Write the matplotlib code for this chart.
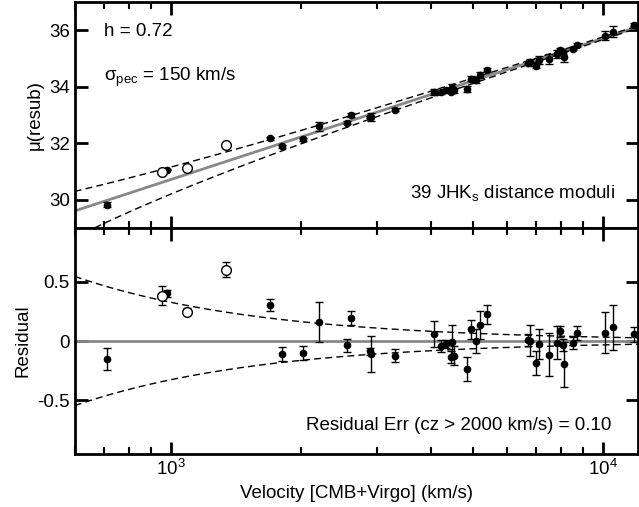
import numpy as np
import matplotlib.pyplot as plt
from matplotlib.ticker import LogLocator, NullFormatter, FixedLocator

plt.rcParams['font.family'] = ['Liberation Sans', 'DejaVu Sans']
plt.rcParams['font.size'] = 13.5
plt.rcParams['mathtext.fontset'] = 'custom'
plt.rcParams['mathtext.rm'] = 'Liberation Sans'
plt.rcParams['mathtext.it'] = 'Liberation Sans'

h = 0.72
sigma_pec = 150.0

# velocity (km/s), distance modulus, residual, error, open flag
velocity = [711, 957, 979, 1093, 1341, 1698, 1807, 2023, 2208, 2565,
            2610, 2890, 2914, 3300, 4065, 4217, 4346, 4487, 4446, 4530,
            4853, 4966, 5096, 5187, 5402, 6776, 6700, 7000, 7124, 7519,
            7827, 7985, 8095, 8136, 8533, 8712, 10116, 10577, 11838]
mu = [29.82, 31.00, 31.07, 31.13, 31.95, 32.17, 31.89, 32.14, 32.60, 32.72,
      33.00, 32.93, 32.93, 33.18, 33.82, 33.80, 33.88, 33.97, 33.82, 33.87,
      33.91, 34.29, 34.25, 34.42, 34.60, 34.87, 34.85, 34.75, 34.95, 34.98,
      35.17, 35.31, 35.22, 35.07, 35.35, 35.48, 35.81, 35.95, 36.20]
resid = [-0.15, 0.38, 0.40, 0.245, 0.60, 0.30, -0.11, -0.10, 0.16, -0.035,
         0.195, -0.085, -0.11, -0.125, 0.06, -0.04, -0.025, -0.005, -0.137, -0.125,
         -0.235, 0.10, 0.003, 0.135, 0.225, 0.003, 0.01, -0.185, -0.025, -0.115,
         -0.015, 0.08, -0.03, -0.195, -0.02, 0.07, 0.07, 0.115, 0.055]
err = [0.09, 0.08, 0.03, 0.03, 0.06, 0.05, 0.06, 0.06, 0.17, 0.055,
       0.06, 0.03, 0.15, 0.055, 0.11, 0.05, 0.03, 0.14, 0.05, 0.08,
       0.10, 0.08, 0.10, 0.12, 0.08, 0.13, 0.05, 0.10, 0.13, 0.18,
       0.14, 0.05, 0.05, 0.19, 0.05, 0.06, 0.17, 0.19, 0.06]
is_open = [False, True, False, True, True] + [False] * 34

v = np.array(velocity, dtype=float)
mu = np.array(mu)
resid = np.array(resid)
err = np.array(err)
is_open = np.array(is_open)

H0 = 100 * h
vv = np.logspace(np.log10(600), np.log10(12500), 300)
mu_model = 5 * np.log10(vv / H0) + 25
k = 5 / np.log(10)

fig = plt.figure(figsize=(6.39, 5.07), dpi=100)
ax1 = fig.add_axes([0.117, 0.5503, 0.881, 0.4457])
ax2 = fig.add_axes([0.117, 0.1045, 0.881, 0.4458], sharex=ax1)

# --- top panel ---
ax1.plot(vv, mu_model, color='#888888', lw=2, zorder=2)
ax1.plot(vv, 5 * np.log10((vv + 1.5 * sigma_pec) / H0) + 25, 'k--', lw=1, dashes=(5, 3))
ax1.plot(vv, 5 * np.log10((vv - 1.41 * sigma_pec) / H0) + 25, 'k--', lw=1, dashes=(5, 3))
ax1.errorbar(v[~is_open], mu[~is_open], yerr=err[~is_open], fmt='o', color='black',
             ms=4.5, capsize=3, elinewidth=1, zorder=4)
ax1.errorbar(v[is_open], mu[is_open], yerr=err[is_open], fmt='o', mfc='white', mec='black',
             ecolor='black', ms=7, capsize=2, elinewidth=1, zorder=4)
ax1.set_ylim(29, 37)
ax1.set_ylabel('\u03bc(resub)')
ax1.yaxis.set_major_locator(FixedLocator([30, 32, 34, 36]))
ax1.text(0.052, 0.869, 'h = 0.72', transform=ax1.transAxes, va='center')
ax1.text(0.052, 0.668, r'$\mathrm{\sigma_{pec}}$ = 150 km/s', transform=ax1.transAxes, va='center')
ax1.text(0.959, 0.155, r'39 JHK$_\mathrm{s}$ distance moduli', transform=ax1.transAxes,
         ha='right', va='center')
plt.setp(ax1.get_xticklabels(), visible=False)

# --- bottom panel ---
ax2.axhline(0, color='#888888', lw=2, zorder=2)
ax2.plot(vv, k * sigma_pec / vv, 'k--', lw=1, dashes=(5, 3))
ax2.plot(vv, -k * sigma_pec / vv, 'k--', lw=1, dashes=(5, 3))
ax2.errorbar(v[~is_open], resid[~is_open], yerr=err[~is_open], fmt='o', color='black',
             ms=4.5, capsize=3, elinewidth=1, zorder=4)
ax2.errorbar(v[is_open], resid[is_open], yerr=err[is_open], fmt='o', mfc='white', mec='black',
             ecolor='black', ms=7, capsize=3, elinewidth=1, zorder=4)
ax2.set_ylim(-0.95, 0.95)
ax2.yaxis.set_major_locator(FixedLocator([-0.5, 0, 0.5]))
ax2.set_yticklabels(['-0.5', '0', '0.5'])
ax2.set_ylabel('Residual')
ax2.set_xlabel('Velocity [CMB+Virgo] (km/s)')
ax2.text(0.953, 0.128, 'Residual Err (cz > 2000 km/s) = 0.10', transform=ax2.transAxes,
         ha='right', va='center')

ax2.set_xscale('log')
ax2.set_xlim(600, 12050)
for ax in (ax1, ax2):
    ax.xaxis.set_major_locator(LogLocator(base=10))
    ax.xaxis.set_minor_locator(LogLocator(base=10, subs=np.arange(2, 10)))
    ax.xaxis.set_minor_formatter(NullFormatter())
    ax.tick_params(which='major', direction='in', length=9, width=2, top=True, right=True)
    ax.tick_params(which='minor', direction='in', length=5, width=1.5, top=True, right=True)
    for s in ax.spines.values():
        s.set_linewidth(2)

fig.savefig('out.png', dpi=100)
